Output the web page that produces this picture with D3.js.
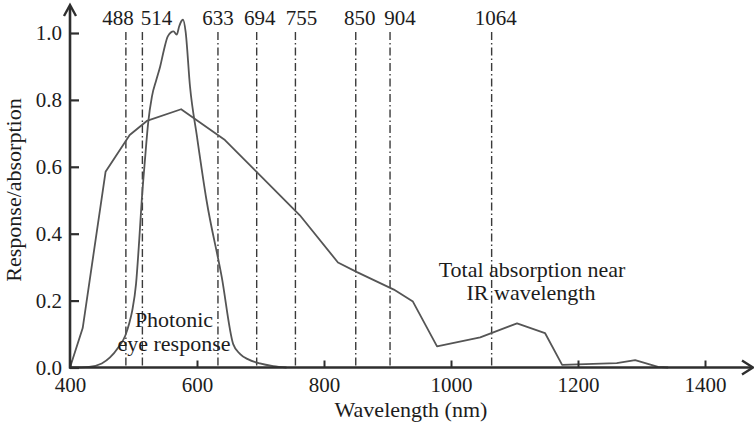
<!DOCTYPE html>
<html>
<head>
<meta charset="utf-8">
<script src="https://cdn.jsdelivr.net/npm/d3@7/dist/d3.min.js"></script>
<style>
  html, body { margin: 0; padding: 0; background: #fff; }
  svg { display: block; }
  text { font-family: "Liberation Serif", "DejaVu Serif", serif; fill: #1c1c1c; }
</style>
</head>
<body>
<svg id="chart" width="754" height="428"></svg>
<script>
// Total absorption curve (wavelength nm, relative absorption)
const totalWavelength = [400, 420, 456, 494, 521, 575, 644, 762, 822, 852, 910, 940, 978, 1046, 1104, 1148, 1175, 1261, 1290, 1326, 1342];
const totalValue      = [0.0, 0.118, 0.585, 0.695, 0.737, 0.772, 0.68, 0.455, 0.314, 0.285, 0.233, 0.197, 0.063, 0.09, 0.132, 0.103, 0.008, 0.013, 0.022, 0.002, 0.0];

// Photopic eye response curve
const eyeWavelength = [400, 430, 450, 463, 476, 487, 493, 498, 504, 509, 513, 518, 523, 529, 536, 542, 548, 554, 563, 568, 572, 576, 578, 582, 589, 600, 615, 639, 657, 668, 680, 699, 720, 741];
const eyeValue      = [0.0, 0.002, 0.012, 0.03, 0.06, 0.095, 0.13, 0.17, 0.25, 0.38, 0.5, 0.62, 0.73, 0.81, 0.86, 0.9, 0.95, 0.99, 1.005, 0.995, 1.02, 1.037, 1.04, 1.005, 0.84, 0.69, 0.5, 0.27, 0.07, 0.04, 0.025, 0.012, 0.004, 0.0];

// Laser lines marked on the chart
const laserLines = [488, 514, 633, 694, 755, 850, 904, 1064];

// Axis ticks
const xTicks = [400, 600, 800, 1000, 1200, 1400];
const yTicks = [0.0, 0.2, 0.4, 0.6, 0.8, 1.0];

const svg = d3.select("#chart");
const ink = "#2e2e2e";
const curveInk = "#555";

const x = d3.scaleLinear().domain([400, 1400]).range([70, 705]);
const y = d3.scaleLinear().domain([0, 1]).range([367.5, 33]);

// dash-dot laser lines
const labelNudge = { 488: -8, 514: 14, 633: 0, 694: 3, 755: 6, 850: 4, 904: 10, 1064: 4 };
svg.append("g").selectAll("line").data(laserLines).join("line")
  .attr("x1", d => x(d)).attr("x2", d => x(d))
  .attr("y1", 32).attr("y2", y(0))
  .attr("stroke", "#3a3a3a").attr("stroke-width", 1.4)
  .attr("stroke-dasharray", "8,3,1.5,3");

svg.append("g").selectAll("text").data(laserLines).join("text")
  .attr("x", d => x(d) + labelNudge[d]).attr("y", 25)
  .attr("text-anchor", "middle").attr("font-size", 21)
  .text(d => d);

// curves
const line = d3.line().x(d => x(d[0])).y(d => y(d[1]));
const totalPts = totalWavelength.map((w, i) => [w, totalValue[i]]);
const eyePts = eyeWavelength.map((w, i) => [w, eyeValue[i]]);

svg.append("path").attr("d", line(totalPts))
  .attr("fill", "none").attr("stroke", curveInk).attr("stroke-width", 1.8)
  .attr("stroke-linejoin", "round");
svg.append("path").attr("d", line.curve(d3.curveMonotoneX)(eyePts))
  .attr("fill", "none").attr("stroke", curveInk).attr("stroke-width", 1.8)
  .attr("stroke-linejoin", "round");

// axes
const xAxis = svg.append("g").attr("transform", `translate(0,${y(0)})`)
  .call(d3.axisBottom(x).tickValues(xTicks).tickSize(0).tickPadding(10).tickFormat(d3.format("d")));
xAxis.select(".domain").remove();
xAxis.selectAll("text").attr("font-size", 21);
xAxis.selectAll(".tick").append("line")
  .attr("y1", 0).attr("y2", -7).attr("stroke", ink).attr("stroke-width", 2);

const yAxis = svg.append("g").attr("transform", `translate(${x(400)},0)`)
  .call(d3.axisLeft(y).tickValues(yTicks).tickSize(0).tickPadding(8).tickFormat(d3.format(".1f")));
yAxis.select(".domain").remove();
yAxis.selectAll("text").attr("font-size", 21);
yAxis.selectAll(".tick").append("line")
  .attr("x1", 0).attr("x2", 9).attr("stroke", ink).attr("stroke-width", 2.2);

// axis lines with open arrowheads
const x0 = x(400), y0 = y(0);
svg.append("line").attr("x1", x0).attr("x2", x0).attr("y1", y0 + 1).attr("y2", 6)
  .attr("stroke", ink).attr("stroke-width", 2.6);
svg.append("path").attr("d", `M${x0 - 6},${16} L${x0},${5} L${x0 + 6},${16}`)
  .attr("fill", "none").attr("stroke", ink).attr("stroke-width", 2.4);
svg.append("line").attr("x1", x0 - 1).attr("x2", 752).attr("y1", y0).attr("y2", y0)
  .attr("stroke", ink).attr("stroke-width", 2.6);
svg.append("path").attr("d", `M${742},${y0 - 7} L${753},${y0} L${742},${y0 + 7}`)
  .attr("fill", "none").attr("stroke", ink).attr("stroke-width", 2.4);

// axis titles
svg.append("text").attr("x", 411).attr("y", 417).attr("text-anchor", "middle")
  .attr("font-size", 22).text("Wavelength (nm)");
svg.append("text").attr("transform", "translate(21,190) rotate(-90)")
  .attr("text-anchor", "middle").attr("font-size", 22).text("Response/absorption");

// annotations
svg.append("text").attr("x", 174).attr("y", 327).attr("text-anchor", "middle")
  .attr("font-size", 22).text("Photonic");
svg.append("text").attr("x", 174).attr("y", 351).attr("text-anchor", "middle")
  .attr("font-size", 22).text("eye response");
svg.append("text").attr("x", 532).attr("y", 277).attr("text-anchor", "middle")
  .attr("font-size", 22).text("Total absorption near");
svg.append("text").attr("x", 531).attr("y", 300).attr("text-anchor", "middle")
  .attr("font-size", 22).text("IR wavelength");
</script>
</body>
</html>
